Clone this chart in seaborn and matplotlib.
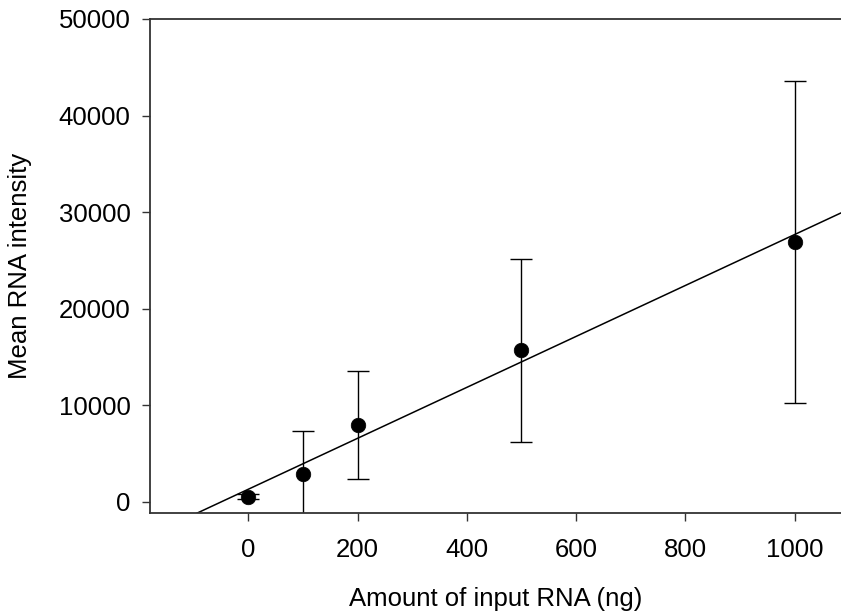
import matplotlib
matplotlib.use("Agg")
import matplotlib.pyplot as plt
import seaborn as sns
import pandas as pd
import numpy as np

input_ng = [0, 100, 200, 500, 1000]
mean_intensity = [520, 2900, 8000, 15700, 26900]
err_intensity = [250, 4400, 5580, 9450, 16700]
x_ticks = [0, 200, 400, 600, 800, 1000]
y_ticks = [0, 10000, 20000, 30000, 40000, 50000]

df = pd.DataFrame({"x": input_ng, "y": mean_intensity, "err": err_intensity})

sns.set_style("ticks")
plt.rcParams["font.family"] = ["Liberation Sans", "DejaVu Sans"]
plt.rcParams["text.color"] = "black"
plt.rcParams["axes.labelcolor"] = "black"
plt.rcParams["xtick.color"] = "#333333"
plt.rcParams["ytick.color"] = "#333333"
plt.rcParams["xtick.labelcolor"] = "black"
plt.rcParams["ytick.labelcolor"] = "black"

fig = plt.figure(figsize=(8.41, 6.15), dpi=100)
ax = fig.add_axes([150/841, 1-513/615, 1-150/841, (513-19)/615])
ax.set_xlim(-180, 1085)
ax.set_ylim(-1150, 50000)

sns.regplot(data=df, x="x", y="y", scatter=False, ci=None, truncate=False,
            color="black", line_kws={"linewidth": 1.1}, ax=ax)
ax.errorbar(df["x"], df["y"], yerr=df["err"], fmt="none", ecolor="black",
            elinewidth=1.0, capsize=8, capthick=1.0)
sns.scatterplot(data=df, x="x", y="y", color="black", s=110, edgecolor="black",
                linewidth=0.5, zorder=5, ax=ax)

ax.set_xticks(x_ticks)
ax.set_yticks(y_ticks)
ax.tick_params(axis="x", length=6, width=1.0, pad=12, labelsize=18.5)
ax.tick_params(axis="y", length=6, width=1.0, pad=8, labelsize=18.5)
ax.spines["right"].set_visible(False)
for s in ["left", "top", "bottom"]:
    ax.spines[s].set_linewidth(1.3)
    ax.spines[s].set_color("#333333")
ax.set_xlabel("Amount of input RNA (ng)", fontsize=18.5, labelpad=18)
ax.set_ylabel("Mean RNA intensity", fontsize=18.5, labelpad=19)

fig.savefig("out.png", dpi=100)
